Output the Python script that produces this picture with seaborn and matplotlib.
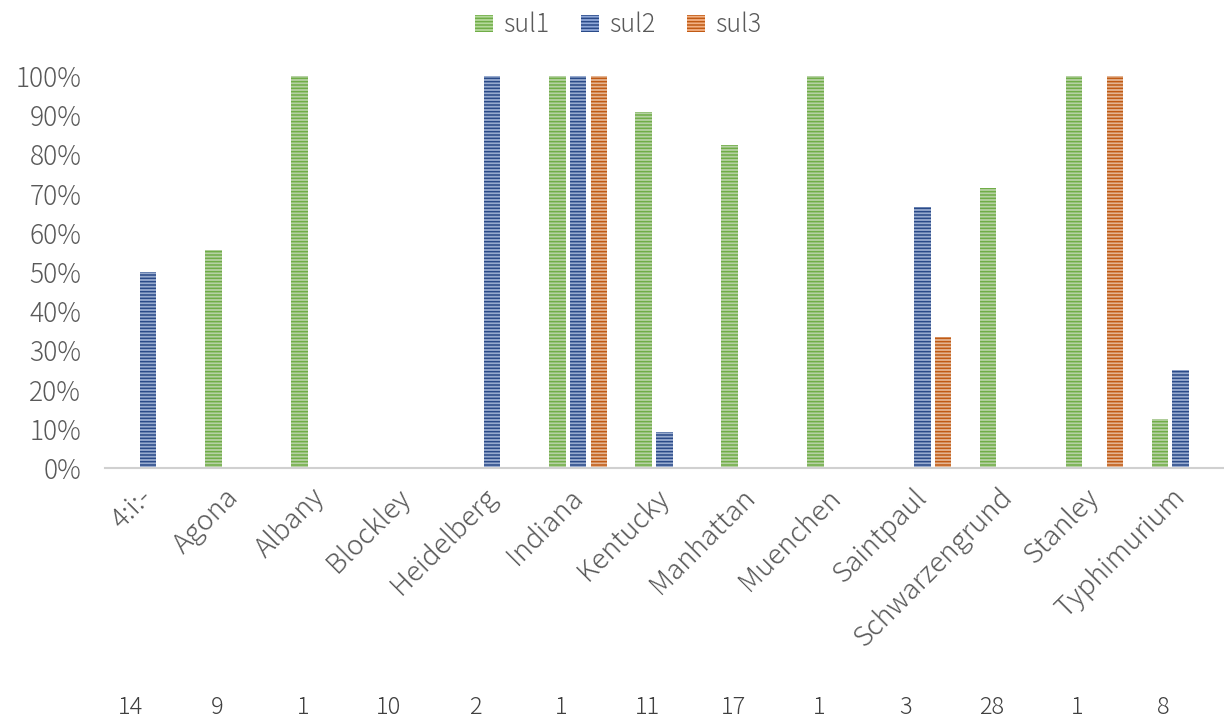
import matplotlib
matplotlib.use("Agg")
import matplotlib.pyplot as plt
import matplotlib.transforms as mtransforms
from matplotlib.patches import Patch
import seaborn as sns
import pandas as pd

# Serotypes, isolate counts and share of isolates carrying each sul gene
serotypes = ["4:i:-", "Agona", "Albany", "Blockley", "Heidelberg", "Indiana",
             "Kentucky", "Manhattan", "Muenchen", "Saintpaul", "Schwarzengrund",
             "Stanley", "Typhimurium"]
isolates = [14, 9, 1, 10, 2, 1, 11, 17, 1, 3, 28, 1, 8]
sul1 = [0, 5 / 9, 1.0, 0, 0, 1.0, 10 / 11, 14 / 17, 1.0, 0, 20 / 28, 1.0, 1 / 8]
sul2 = [0.5, 0, 0, 0, 1.0, 1.0, 1 / 11, 0, 0, 2 / 3, 0, 0, 2 / 8]
sul3 = [0, 0, 0, 0, 0, 1.0, 0, 0, 0, 1 / 3, 0, 1.0, 0]
genes = ["sul1", "sul2", "sul3"]

face_colors = {"sul1": "#B5D99C", "sul2": "#8FA8D8", "sul3": "#F2B184"}
stripe_colors = {"sul1": "#70AD47", "sul2": "#2A4A88", "sul3": "#C05A14"}

df = pd.DataFrame({
    "serotype": serotypes * 3,
    "gene": [g for g in genes for _ in serotypes],
    "share": sul1 + sul2 + sul3,
})

sns.set_theme(style="white")
plt.rcParams["font.family"] = ["Noto Sans CJK JP", "DejaVu Sans"]
plt.rcParams["hatch.linewidth"] = 1.1
text_color = "#595959"

fig = plt.figure(figsize=(12.24, 7.25), dpi=100)
ax = fig.add_axes([0.0857, 0.3545, 0.914, 0.5407])

sns.barplot(data=df, x="serotype", y="share", hue="gene", order=serotypes,
            hue_order=genes, palette=face_colors, width=0.72, gap=0.2,
            legend=False, ax=ax)

for container, gene in zip(ax.containers, genes):
    for bar in container:
        bar.set_hatch("-----")
        bar.set_edgecolor(stripe_colors[gene])
        bar.set_linewidth(0)

ax.set_ylim(0, 1)
ax.set_xlim(-0.5, len(serotypes) - 0.5)
ax.set_yticks([i / 10 for i in range(11)])
ax.set_yticklabels([f"{i * 10}%" for i in range(11)])
ax.set_xlabel("")
ax.set_ylabel("")
for side in ["top", "right", "left"]:
    ax.spines[side].set_visible(False)
ax.spines["bottom"].set_color("#D0D0D0")
ax.spines["bottom"].set_linewidth(1.5)
ax.tick_params(axis="y", length=0, labelsize=19, labelcolor=text_color, pad=17)
ax.tick_params(axis="x", length=0, labelsize=20, labelcolor=text_color, pad=18)
plt.setp(ax.get_xticklabels(), rotation=45, ha="right", va="center",
         rotation_mode="anchor", fontweight="light")
plt.setp(ax.get_yticklabels(), fontweight="light")

# Isolate counts shown beneath each serotype
trans = mtransforms.blended_transform_factory(ax.transData, ax.transAxes)
for i, n in enumerate(isolates):
    ax.text(i - 0.2, -0.612, str(n), transform=trans, ha="center", va="center",
            fontsize=17, color="#404040", fontweight="light")

handles = [Patch(facecolor=face_colors[g], edgecolor=stripe_colors[g],
                 hatch="-----", linewidth=0, label=g) for g in genes]
leg = fig.legend(handles=handles, loc="upper center",
                 bbox_to_anchor=(0.505, 1.015), ncol=3, frameon=False,
                 fontsize=18, labelcolor=text_color, handlelength=0.7,
                 handleheight=0.7, handletextpad=0.4, columnspacing=1.3)
plt.setp(leg.get_texts(), fontweight="light")

fig.savefig("out.png", dpi=100)
